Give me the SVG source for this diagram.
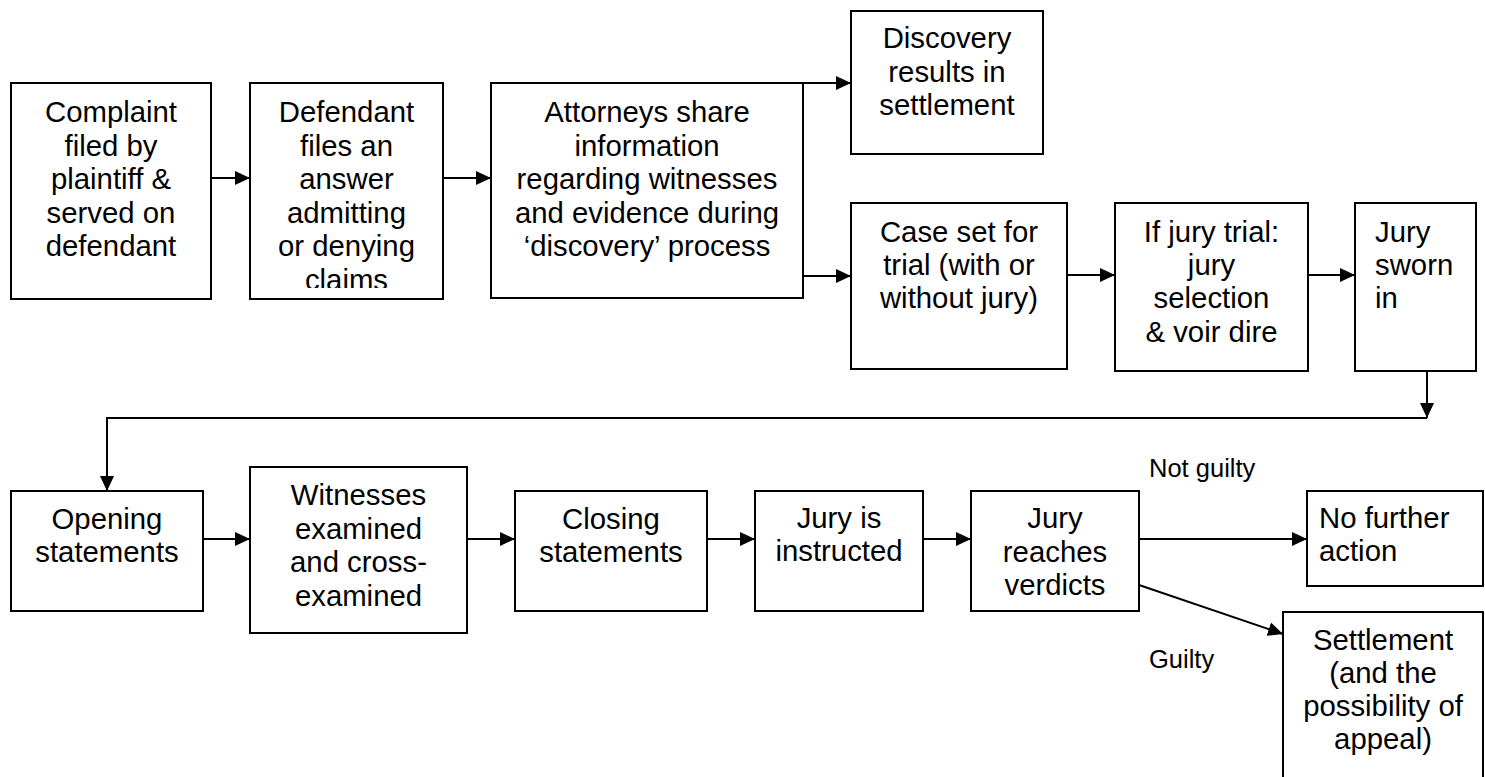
<svg xmlns="http://www.w3.org/2000/svg" width="1485" height="777" viewBox="0 0 1485 777">
<style>
  .box { fill: #ffffff; stroke: #000000; stroke-width: 2; }
  .t { font-family: "Liberation Sans", Arial, sans-serif; font-size: 29.33px; fill: #000000; text-anchor: middle; }
  .tl { font-family: "Liberation Sans", Arial, sans-serif; font-size: 29.33px; fill: #000000; text-anchor: start; }
  .lbl { font-family: "Liberation Sans", Arial, sans-serif; font-size: 25.5px; fill: #000000; }
  .con { fill: none; stroke: #000000; stroke-width: 2; marker-end: url(#arr); }
</style>
<defs>
  <marker id="arr" markerUnits="userSpaceOnUse" markerWidth="15" markerHeight="14" refX="15" refY="7" orient="auto">
    <path d="M0,0 L15,7 L0,14 z" fill="#000000"/>
  </marker>
  <clipPath id="clipDef"><rect x="250" y="83" width="194" height="205"/></clipPath>
</defs>
<rect width="1485" height="777" fill="#ffffff"/>

<g id="connectors">
  <line class="con" x1="211" y1="178" x2="250" y2="178"/>
  <line class="con" x1="443" y1="178" x2="491" y2="178"/>
  <line class="con" x1="803" y1="83" x2="851" y2="83"/>
  <line class="con" x1="803" y1="276" x2="851" y2="276"/>
  <line class="con" x1="1067" y1="275" x2="1115" y2="275"/>
  <line class="con" x1="1308" y1="275" x2="1355" y2="275"/>
  <line class="con" x1="1427" y1="371" x2="1427" y2="418"/>
  <polyline class="con" points="1427,418 107,418 107,491"/>
  <line class="con" x1="203" y1="539" x2="250" y2="539"/>
  <line class="con" x1="467" y1="539" x2="515" y2="539"/>
  <line class="con" x1="707" y1="539" x2="755" y2="539"/>
  <line class="con" x1="923" y1="539" x2="971" y2="539"/>
  <line class="con" x1="1139" y1="539" x2="1307" y2="539"/>
  <line class="con" x1="1139" y1="585" x2="1283" y2="634"/>
  <text class="lbl" x="1149" y="477">Not guilty</text>
  <text class="lbl" x="1149" y="668">Guilty</text>
</g>

<g id="complaint">
  <rect class="box" x="11" y="83" width="200" height="216"/>
  <text class="t" x="111" y="122">Complaint</text>
  <text class="t" x="111" y="155.5">filed by</text>
  <text class="t" x="111" y="189">plaintiff &amp;</text>
  <text class="t" x="111" y="222.5">served on</text>
  <text class="t" x="111" y="256">defendant</text>
</g>

<g id="defendant">
  <rect class="box" x="250" y="83" width="193" height="216"/>
  <g clip-path="url(#clipDef)">
    <text class="t" x="346.5" y="122">Defendant</text>
    <text class="t" x="346.5" y="155.5">files an</text>
    <text class="t" x="346.5" y="189">answer</text>
    <text class="t" x="346.5" y="222.5">admitting</text>
    <text class="t" x="346.5" y="256">or denying</text>
    <text class="t" x="346.5" y="289.5">claims</text>
  </g>
</g>

<g id="attorneys">
  <rect class="box" x="491" y="83" width="312" height="215"/>
  <text class="t" x="647" y="122">Attorneys share</text>
  <text class="t" x="647" y="155.5">information</text>
  <text class="t" x="647" y="189">regarding witnesses</text>
  <text class="t" x="647" y="222.5">and evidence during</text>
  <text class="t" x="647" y="256">‘discovery’ process</text>
</g>

<g id="discovery">
  <rect class="box" x="851" y="11" width="192" height="143"/>
  <text class="t" x="947" y="48">Discovery</text>
  <text class="t" x="947" y="82">results in</text>
  <text class="t" x="947" y="115">settlement</text>
</g>

<g id="caseset">
  <rect class="box" x="851" y="203" width="216" height="166"/>
  <text class="t" x="959" y="242">Case set for</text>
  <text class="t" x="959" y="275">trial (with or</text>
  <text class="t" x="959" y="308">without jury)</text>
</g>

<g id="juryselection">
  <rect class="box" x="1115" y="203" width="193" height="168"/>
  <text class="t" x="1211.5" y="242">If jury trial:</text>
  <text class="t" x="1211.5" y="275">jury</text>
  <text class="t" x="1211.5" y="308">selection</text>
  <text class="t" x="1211.5" y="342">&amp; voir dire</text>
</g>

<g id="sworn">
  <rect class="box" x="1355" y="203" width="121" height="168"/>
  <text class="tl" x="1375" y="242">Jury</text>
  <text class="tl" x="1375" y="275">sworn</text>
  <text class="tl" x="1375" y="308">in</text>
</g>

<g id="opening">
  <rect class="box" x="11" y="491" width="192" height="120"/>
  <text class="t" x="107" y="529">Opening</text>
  <text class="t" x="107" y="562">statements</text>
</g>

<g id="witnesses">
  <rect class="box" x="250" y="467" width="217" height="166"/>
  <text class="t" x="358.5" y="505">Witnesses</text>
  <text class="t" x="358.5" y="538.5">examined</text>
  <text class="t" x="358.5" y="572">and cross-</text>
  <text class="t" x="358.5" y="605.5">examined</text>
</g>

<g id="closing">
  <rect class="box" x="515" y="491" width="192" height="120"/>
  <text class="t" x="611" y="529">Closing</text>
  <text class="t" x="611" y="562">statements</text>
</g>

<g id="instructed">
  <rect class="box" x="755" y="491" width="168" height="120"/>
  <text class="t" x="839" y="528">Jury is</text>
  <text class="t" x="839" y="561">instructed</text>
</g>

<g id="verdicts">
  <rect class="box" x="971" y="491" width="168" height="120"/>
  <text class="t" x="1055" y="528">Jury</text>
  <text class="t" x="1055" y="562">reaches</text>
  <text class="t" x="1055" y="595">verdicts</text>
</g>

<g id="nofurther">
  <rect class="box" x="1307" y="491" width="176" height="95"/>
  <text class="tl" x="1319" y="528">No further</text>
  <text class="tl" x="1319" y="561">action</text>
</g>

<g id="settlement">
  <rect class="box" x="1283" y="612" width="200" height="180"/>
  <text class="t" x="1383" y="650">Settlement</text>
  <text class="t" x="1383" y="683">(and the</text>
  <text class="t" x="1383" y="716">possibility of</text>
  <text class="t" x="1383" y="749">appeal)</text>
</g>
</svg>
